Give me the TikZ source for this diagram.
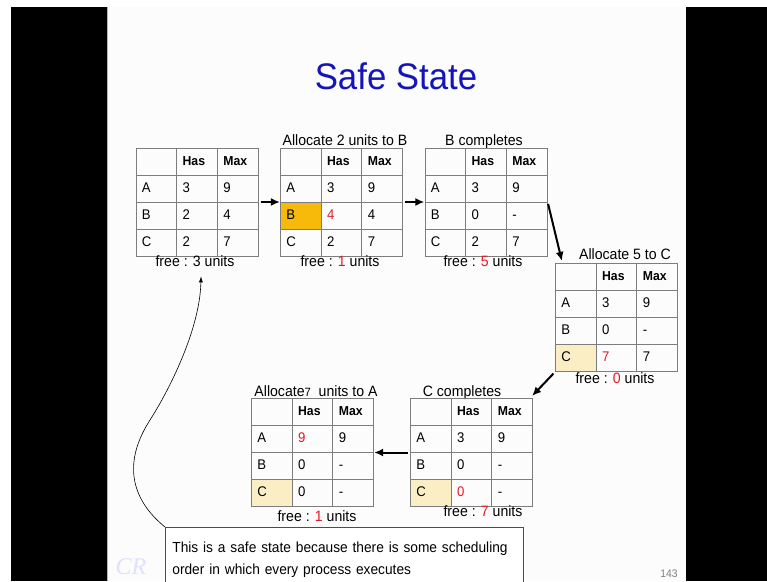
\documentclass[tikz,border=0pt]{standalone}
\usepackage{fontspec}
\setmainfont{Liberation Sans}[FakeStretch=0.94]
\newfontfamily\logofont{Liberation Serif}
\usetikzlibrary{matrix, arrows.meta}

\definecolor{titleblue}{RGB}{20,20,185}
\definecolor{valred}{RGB}{225,25,40}
\definecolor{amber}{RGB}{247,186,10}
\definecolor{paleamber}{RGB}{252,238,196}
\definecolor{slidebg}{RGB}{251,252,251}
\definecolor{gridgray}{RGB}{125,125,125}

\begin{document}
\begin{tikzpicture}[x=1pt, y=-1pt,
    every node/.style={font=\fontsize{15}{17}\selectfont},
    tbl/.style={matrix of nodes, nodes in empty cells, inner sep=0pt,
        column sep=-0.8pt, row sep=-0.8pt,
        nodes={draw=gridgray, line width=0.8pt, minimum height=27pt,
            text width=28.7pt, inner xsep=6pt, align=left,
            text height=10pt, text depth=3pt, font=\fontsize{14}{16}\selectfont},
        row 1/.style={nodes={font=\bfseries\fontsize{13}{15}\selectfont}}},
    steplabel/.style={anchor=base, inner sep=0pt},
    freelabel/.style={anchor=base, inner sep=1pt},
    note/.style={draw=black!70, line width=0.8pt, fill=white, text width=344pt,
        inner xsep=7pt, inner ysep=15pt, align=left, font=\fontsize{14.6}{22}\selectfont},
    arr/.style={-{Latex[length=9pt,width=8pt]}, line width=2pt, shorten <=2pt},
    curvearr/.style={-{Latex[length=6pt,width=4pt]}, line width=0.6pt}
]
\useasboundingbox (0,0) rectangle (767,581);
\clip (0,0) rectangle (767,581);

% Slide and screen borders
\fill[white] (0,0) rectangle (767,581);
\fill[slidebg] (108,7) rectangle (686,581);
\fill[black] (11,7) rectangle (107,581);
\fill[black] (686,7) rectangle (767,581);
\draw[black!30, line width=1pt] (107.5,7) -- (107.5,581);

% Title
\node[font=\fontsize{37}{40}\selectfont, text=titleblue, anchor=base] (title) at (396,89) {Safe State};

% Initial state
\matrix[tbl] (t1) at (197,202) {
      & Has & Max \\
    A & 3   & 9   \\
    B & 2   & 4   \\
    C & 2   & 7   \\
};
\node[freelabel] (f1) at (195,266) {free : 3 units};

% Allocate 2 units to B
\node[steplabel] (l2) at (345,145) {Allocate 2 units to B};
\matrix[tbl] (t2) at (341.5,202) {
      & Has & Max \\
    A & 3   & 9   \\
    |[fill=amber]| B & |[text=valred]| 4 & 4 \\
    C & 2   & 7   \\
};
\node[freelabel] (f2) at (340,266) {free : \textcolor{valred}{1} units};

% B completes
\node[steplabel] (l3) at (484,145) {B completes};
\matrix[tbl] (t3) at (486,202) {
      & Has & Max \\
    A & 3   & 9   \\
    B & 0   & -   \\
    C & 2   & 7   \\
};
\node[freelabel] (f3) at (483,266) {free : \textcolor{valred}{5} units};

% Allocate 5 to C
\node[steplabel] (l4) at (625,259) {Allocate 5 to C};
\matrix[tbl] (t4) at (616.5,317.5) {
      & Has & Max \\
    A & 3   & 9   \\
    B & 0   & -   \\
    |[fill=paleamber]| C & |[text=valred]| 7 & 7 \\
};
\node[freelabel] (f4) at (615,383) {free : \textcolor{valred}{0} units};

% C completes
\node[steplabel] (l5) at (462,396) {C completes};
\matrix[tbl] (t5) at (471.5,452.5) {
      & Has & Max \\
    A & 3   & 9   \\
    B & 0   & -   \\
    |[fill=paleamber]| C & |[text=valred]| 0 & - \\
};
\node[freelabel] (f5) at (483,516) {free : \textcolor{valred}{7} units};

% Allocate 7 units to A
\node[steplabel] (l6) at (316,396) {Allocate{\fontsize{12}{14}\selectfont 7}\ \ units to A};
\matrix[tbl] (t6) at (312.5,452.5) {
      & Has & Max \\
    A & |[text=valred]| 9 & 9 \\
    B & 0   & -   \\
    |[fill=paleamber]| C & 0 & - \\
};
\node[freelabel] (f6) at (317,521) {free : \textcolor{valred}{1} units};

% Arrows
\draw[arr] (t1) -- (t2);
\draw[arr] (t2) -- (t3);
\draw[arr] (t3.east) -- ([xshift=7pt,yshift=2pt]t4.north west);
\draw[arr] (t4.south west) -- ([xshift=-1pt,yshift=2pt]t5.north east);
\draw[arr] (t5) -- (t6);

% Remark
\node[note, anchor=north west] (note) at (165,527)
    {\mbox{This is a safe state because there is some scheduling}\\order in which every process executes};
\draw[curvearr] (note.north west) .. controls (138,505) and (118,470) .. (150,420)
    .. controls (168,392) and (200,330) .. ([xshift=6pt,yshift=-9pt]f1.south);

% Logo and page number
\node[text=blue!12, font=\logofont\itshape\fontsize{24}{26}\selectfont, anchor=base] (logo) at (131,574) {CR};
\node[text=gray, font=\fontsize{11}{13}\selectfont, anchor=base] (pgnum) at (669,577) {143};
\end{tikzpicture}
\end{document}
